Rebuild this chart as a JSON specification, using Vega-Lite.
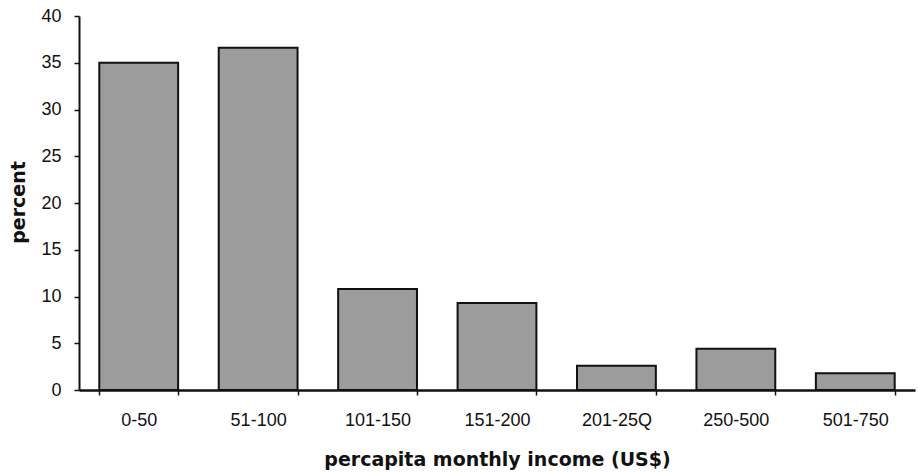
{
  "$schema": "https://vega.github.io/schema/vega-lite/v6.json",
  "autosize": "none",
  "padding": {"left": 79, "top": 16, "right": 3, "bottom": 82},
  "width": 836,
  "height": 374,
  "background": "white",
  "config": {"view": {"stroke": null}},
  "data": {"values": [
    {"income": "0-50", "percent": 35.0},
    {"income": "51-100", "percent": 36.6},
    {"income": "101-150", "percent": 10.8},
    {"income": "151-200", "percent": 9.3},
    {"income": "201-25Q", "percent": 2.6},
    {"income": "250-500", "percent": 4.4},
    {"income": "501-750", "percent": 1.8}
  ]},
  "mark": {"type": "bar", "fill": "#9c9c9c", "stroke": "#111111", "strokeWidth": 2},
  "encoding": {
    "x": {
      "field": "income", "type": "nominal", "sort": null,
      "scale": {"paddingInner": 0.34, "paddingOuter": 0.17},
      "axis": {
        "title": "percapita monthly income (US$)",
        "labelAngle": 0,
        "labelFont": "Liberation Sans", "labelFontSize": 18, "labelColor": "#111",
        "labelPadding": 16,
        "tickBand": "extent", "tickSize": 5, "tickColor": "#111", "tickWidth": 1.5,
        "domainColor": "#111", "domainWidth": 2.5,
        "titleFont": "DejaVu Sans", "titleFontWeight": "bold", "titleFontSize": 19, "titleColor": "#111",
        "titleBaseline": "alphabetic", "titleY": 75
      }
    },
    "y": {
      "field": "percent", "type": "quantitative",
      "scale": {"domain": [0, 40]},
      "axis": {
        "title": "percent",
        "values": [0, 5, 10, 15, 20, 25, 30, 35, 40],
        "grid": false,
        "labelFont": "Liberation Sans", "labelFontSize": 18, "labelColor": "#111",
        "labelPadding": 13,
        "tickSize": 5, "tickColor": "#111", "tickWidth": 1.5,
        "domainColor": "#111", "domainWidth": 2,
        "titleFont": "DejaVu Sans", "titleFontWeight": "bold", "titleFontSize": 19, "titleColor": "#111",
        "titleAngle": 270, "titleAlign": "center", "titleBaseline": "middle",
        "titleX": -61, "titleY": 186
      }
    }
  }
}
